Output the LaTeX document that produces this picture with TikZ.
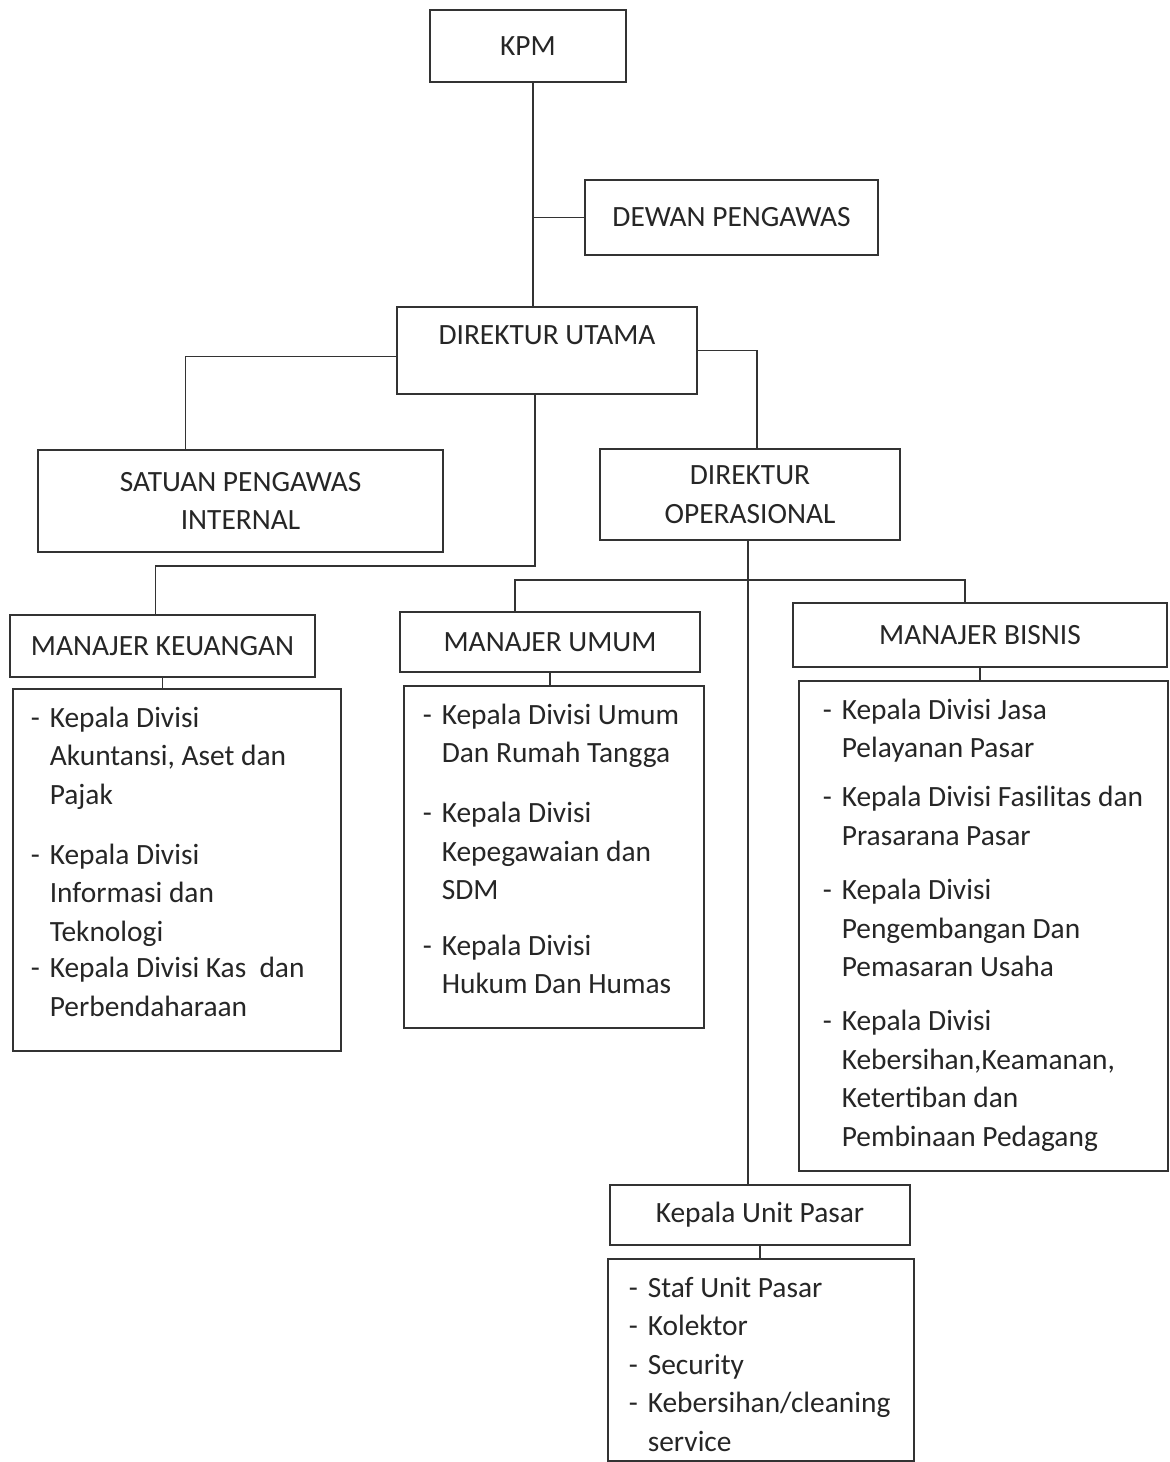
\documentclass[tikz,border=0pt]{standalone}
\usepackage{fontspec}
\setmainfont{Carlito}
\usepackage{tikz}
\usetikzlibrary{positioning}

\newcommand{\itm}[1]{\par\hangindent=9.5pt\hangafter=1\noindent\makebox[9.5pt][l]{-}#1\par}

\begin{document}
\begin{tikzpicture}[x=0.5pt,y=-0.5pt]
\tikzstyle{every node}+=[font=\fontsize{14.7}{19.3}\selectfont, text=black!85]
\tikzstyle{box}=[draw=black!80, line width=0.8pt, inner sep=0pt, align=center]
\tikzstyle{listbox}=[draw=black!80, line width=0.8pt, inner ysep=0pt, anchor=north west]
\tikzstyle{line}=[draw=black!80, line width=0.8pt]
\fill [white] (0,0) rectangle (1169,1462);
\useasboundingbox (0,0) rectangle (1169,1462);
% top
\node [box, minimum width=98pt, minimum height=36pt] (kpm) at (528,46) {KPM};
\node [box, minimum width=146.5pt, minimum height=37.5pt] (dewan) at (731.5,217.5) {DEWAN PENGAWAS};
\node [box, minimum width=150pt, minimum height=43.5pt, text depth=15pt] (dirut) at (547,350.5) {DIREKTUR UTAMA};
\node [box, minimum width=202.5pt, minimum height=51pt] (spi) at (240.5,501) {SATUAN PENGAWAS\\INTERNAL};
\node [box, minimum width=150pt, minimum height=45.5pt] (dirop) at (750,494.5) {DIREKTUR\\OPERASIONAL};
% managers
\node [box, minimum width=152.5pt, minimum height=31pt] (mk) at (162.5,646) {MANAJER KEUANGAN};
\node [box, minimum width=150pt, minimum height=30pt] (mu) at (550,642) {MANAJER UMUM};
\node [box, minimum width=187pt, minimum height=32pt] (mb) at (980,635) {MANAJER BISNIS};
\node [box, minimum width=150pt, minimum height=30pt] (kup) at (760,1215) {Kepala Unit Pasar};
% lists
\node [listbox, inner xsep=9pt] (lk) at (12,688) {\parbox[t][181pt][t]{146pt}{\vspace*{9pt}%
\itm{Kepala Divisi\\Akuntansi, Aset dan\\Pajak}\vspace{10.5pt}%
\itm{Kepala Divisi\\Informasi dan\\Teknologi}\vspace{-1pt}%
\itm{Kepala Divisi Kas~ dan\\Perbendaharaan}}};
\node [listbox, inner xsep=9.5pt] (lu) at (403,685) {\parbox[t][171pt][t]{131pt}{\vspace*{9pt}%
\itm{Kepala Divisi Umum\\Dan Rumah Tangga}\vspace{10.5pt}%
\itm{Kepala Divisi\\Kepegawaian dan\\SDM}\vspace{8.5pt}%
\itm{Kepala Divisi\\Hukum Dan Humas}}};
\node [listbox, inner xsep=12pt] (lb) at (798,680) {\parbox[t][245pt][t]{160.5pt}{\vspace*{9pt}%
\itm{Kepala Divisi Jasa\\Pelayanan Pasar}\vspace{5pt}%
\itm{Kepala Divisi Fasilitas dan\\Prasarana Pasar}\vspace{8pt}%
\itm{Kepala Divisi\\Pengembangan Dan\\Pemasaran Usaha}\vspace{7.5pt}%
\itm{Kepala Divisi\\Kebersihan,Keamanan,\\Ketertiban dan\\Pembinaan Pedagang}}};
\node [listbox, inner xsep=10.5pt] (lp) at (607,1258) {\parbox[t][101pt][t]{132pt}{\vspace*{9pt}%
\itm{Staf Unit Pasar}%
\itm{Kolektor}%
\itm{Security}%
\itm{Kebersihan/cleaning\\service}}};
% connectors
\coordinate (trunk) at ([xshift=2.5pt]kpm.south);
\draw [line] (trunk) -- (trunk |- dirut.north);
\draw [line] (dewan.west) -- (dewan.west -| trunk);
\draw [line] ([yshift=-3pt]dirut.west) -| ([xshift=-27.5pt]spi.north);
\draw [line] (dirut.east) -| ([xshift=3.5pt]dirop.north);
\coordinate (j1) at (535,566);
\draw [line] (dirut.south -| j1) -- (j1) -| ([xshift=-3.5pt]mk.north);
\draw [line] ([xshift=-1pt]dirop.south) -- ([xshift=-1pt]dirop.south |- kup.north);
\coordinate (j2) at (748,580);
\draw [line] ([xshift=-17.5pt]mu.north) |- (j2) -| ([xshift=-7.5pt]mb.north);
\draw [line] (mk.south) -- (mk.south |- lk.north);
\draw [line] (mu.south) -- (mu.south |- lu.north);
\draw [line] (mb.south) -- (mb.south |- lb.north);
\draw [line] (kup.south) -- (kup.south |- lp.north);
\end{tikzpicture}
\end{document}
